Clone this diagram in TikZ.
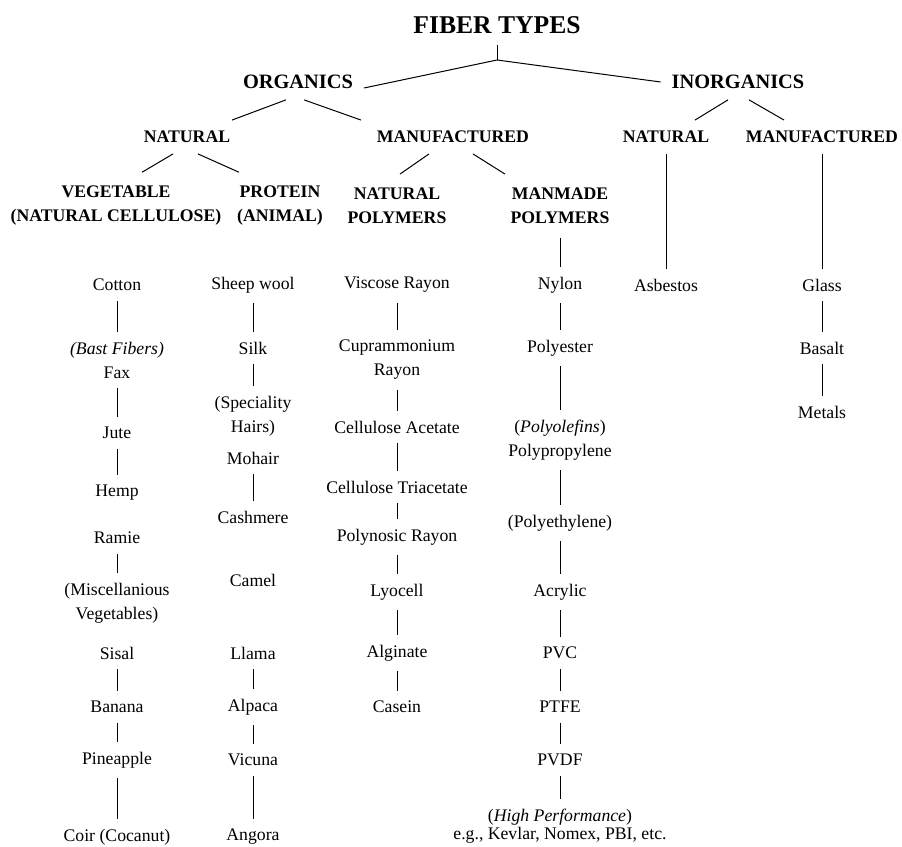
\documentclass[tikz,border=0pt]{standalone}
\usepackage{fontspec}
\setmainfont{Liberation Serif}
\begin{document}
\begin{tikzpicture}[x=0.5pt, y=-0.5pt, line width=0.5pt,
    every node/.style={inner sep=0pt, outer sep=5pt, align=center, font=\fontsize{8.85}{12}\selectfont},
    fibertitle/.style={outer sep=5.5pt, font=\fontsize{12.8}{15}\selectfont\bfseries},
    classhead/.style={outer sep=5.5pt, font=\fontsize{10.2}{12}\selectfont\bfseries},
    subhead/.style={outer sep=5.5pt, font=\fontsize{8.85}{12}\selectfont\bfseries},
    famhead/.style={outer sep=7pt, font=\fontsize{8.85}{12}\selectfont\bfseries}]
    \useasboundingbox (0,0) rectangle (902,847);

    \node (a1) at (497,25) [fibertitle] {FIBER TYPES};
    \coordinate (j1) at (497,60);
    \draw (a1) -- (j1);

    \node (b1) at (298,82) [classhead] {ORGANICS};
    \draw (j1) -- ([yshift=-3pt]b1.east);

    \node (b2) at (738,82) [classhead] {INORGANICS};
    \draw (j1) -- (b2.west);

    \node (c1) at (187,137) [subhead] {NATURAL};
    \draw ([xshift=-6pt]b1.south) -- ([xshift=22.5pt]c1.north);

    \node (c2) at (453,137) [subhead] {MANUFACTURED};
    \draw ([xshift=3pt]b1.south) -- ([xshift=-46pt]c2.north);

    \node (c3) at (666,137) [subhead] {NATURAL};
    \draw ([xshift=-5pt]b2.south) -- ([xshift=14.5pt]c3.north);

    \node (c4) at (822,137) [subhead] {MANUFACTURED};
    \draw ([xshift=5.5pt]b2.south) -- ([xshift=-19pt]c4.north);

    \node (d1) at (116,206) [famhead] {VEGETABLE\\(NATURAL CELLULOSE)};
    \draw ([xshift=-7pt]c1.south) -- ([xshift=13pt]d1.north);

    \node (d2) at (280,206) [famhead] {PROTEIN\\(ANIMAL)};
    \draw ([xshift=5.5pt]c1.south) -- ([xshift=-20.5pt]d2.north);

    \node (d3) at (397,206) [famhead] {NATURAL\\POLYMERS};
    \draw ([xshift=-12pt]c2.south) -- ([xshift=1.5pt]d3.north);

    \node (d4) at (560,206) [famhead] {MANMADE\\POLYMERS};
    \draw ([xshift=10pt]c2.south) -- ([xshift=-27.5pt]d4.north);

    \node (ve1) at (117,285) {Cotton};

    \node (ve2) at (117,360) {\textit{(Bast Fibers)}\\Fax};
    \draw (ve1) -- (ve2);

    \node (ve3) at (117,433) {Jute};
    \draw (ve2) -- (ve3);

    \node (ve4) at (117,493) {Hemp};
    \draw (ve3) -- (ve4);

    \node (ve5) at (117,538) {Ramie};

    \node (ve6) at (117,603) {(Miscellanious\\Vegetables)};
    \draw (ve5) -- (ve6);

    \node (ve7) at (117,653) {Sisal};

    \node (ve8) at (117,707) {Banana};
    \draw (ve7) -- (ve8);

    \node (ve9) at (117,760) {Pineapple};
    \draw (ve8) -- (ve9);

    \node (ve10) at (117,837) {Coir (Cocanut)};
    \draw (ve9) -- (ve10);

    \node (pr1) at (253,285) {Sheep wool};

    \node (pr2) at (253,348) {Silk};
    \draw (pr1) -- (pr2);

    \node (pr3) at (253,416) {(Speciality\\Hairs)};
    \draw (pr2) -- (pr3);

    \node (pr4) at (253,458) {Mohair};

    \node (pr5) at (253,517) {Cashmere};
    \draw (pr4) -- (pr5);

    \node (pr6) at (253,580) {Camel};

    \node (pr7) at (253,653) {Llama};

    \node (pr8) at (253,707) {Alpaca};
    \draw (pr7) -- (pr8);

    \node (pr9) at (253,760) {Vicuna};
    \draw (pr8) -- (pr9);

    \node (pr10) at (253,837) {Angora};
    \draw (pr9) -- (pr10);

    \node (np1) at (397,285) {Viscose Rayon};

    \node (np2) at (397,360) {Cuprammonium\\Rayon};
    \draw (np1) -- (np2);

    \node (np3) at (397,427) {Cellulose Acetate};
    \draw (np2) -- (np3);

    \node (np4) at (397,487) {Cellulose Triacetate};
    \draw (np3) -- (np4);

    \node (np5) at (397,537) {Polynosic Rayon};
    \draw (np4) -- (np5);

    \node (np6) at (397,592) {Lyocell};
    \draw (np5) -- (np6);

    \node (np7) at (397,653) {Alginate};
    \draw (np6) -- (np7);

    \node (np8) at (397,707) {Casein};
    \draw (np7) -- (np8);

    \node (mm1) at (560,285) {Nylon};
    \draw (d4) -- (mm1);

    \node (mm2) at (560,348) {Polyester};
    \draw (mm1) -- (mm2);

    \node (mm3) at (560,440) {(\textit{Polyolefins})\\Polypropylene};
    \draw (mm2) -- (mm3);

    \node (mm4) at (560,523) {(Polyethylene)};
    \draw (mm3) -- (mm4);

    \node (mm5) at (560,592) {Acrylic};
    \draw (mm4) -- (mm5);

    \node (mm6) at (560,653) {PVC};
    \draw (mm5) -- (mm6);

    \node (mm7) at (560,707) {PTFE};
    \draw (mm6) -- (mm7);

    \node (mm8) at (560,760) {PVDF};
    \draw (mm7) -- (mm8);

    \node (mm9) at (560,826) [font=\fontsize{8.85}{9}\selectfont] {(\textit{High Performance})\\e.g., Kevlar, Nomex, PBI, etc.};
    \draw (mm8) -- (mm9);

    \node (in1) at (666,285) {Asbestos};
    \draw (c3) -- (in1);

    \node (im1) at (822,285) {Glass};
    \draw (c4) -- (im1);

    \node (im2) at (822,348) {Basalt};
    \draw (im1) -- (im2);

    \node (im3) at (822,412) {Metals};
    \draw (im2) -- (im3);
  \end{tikzpicture}
\end{document}
